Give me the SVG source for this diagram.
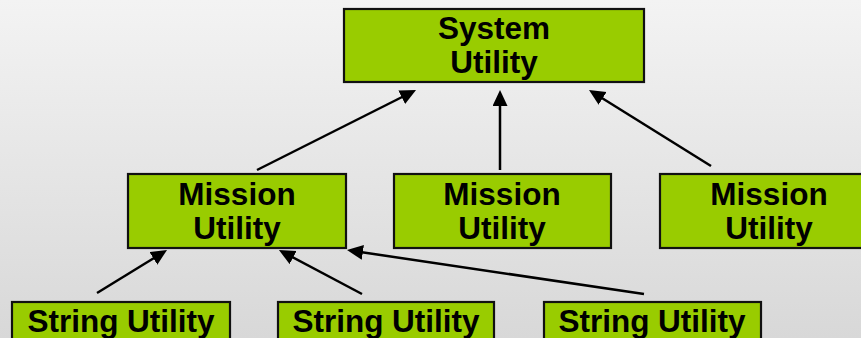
<svg xmlns="http://www.w3.org/2000/svg" width="861" height="338" viewBox="0 0 861 338">
<defs>
<linearGradient id="bg" x1="0" y1="0" x2="0" y2="1">
<stop offset="0" stop-color="#f3f3f3"/>
<stop offset="1" stop-color="#d8d8d8"/>
</linearGradient>
<marker id="ah" markerUnits="userSpaceOnUse" markerWidth="18" markerHeight="18" viewBox="0 0 18 18" refX="6" refY="7.5" orient="auto">
<path d="M0,0 L16,7.5 L0,15 z" fill="#000"/>
</marker>
<style>
.box{fill:#99cc00;stroke:#111;stroke-width:2.2}
.t{font-family:"Liberation Sans",Arial,sans-serif;font-weight:bold;font-size:31.5px;fill:#000;text-anchor:middle}
.c{stroke:#000;stroke-width:2.5;fill:none;marker-end:url(#ah)}
</style>
</defs>
<rect width="861" height="338" fill="url(#bg)"/>
<g id="system">
<rect class="box" x="344" y="9" width="300" height="73"/>
<text class="t" x="494" y="39">System</text>
<text class="t" x="494" y="73">Utility</text>
</g>
<g id="mission1">
<rect class="box" x="128" y="174" width="218" height="74"/>
<text class="t" x="237" y="205">Mission</text>
<text class="t" x="237" y="239">Utility</text>
</g>
<g id="mission2">
<rect class="box" x="394" y="174" width="217" height="74"/>
<text class="t" x="502" y="205">Mission</text>
<text class="t" x="502" y="239">Utility</text>
</g>
<g id="mission3">
<rect class="box" x="660" y="174" width="218" height="74"/>
<text class="t" x="769" y="205">Mission</text>
<text class="t" x="769" y="239">Utility</text>
</g>
<g id="string1">
<rect class="box" x="12" y="302" width="218" height="74"/>
<text class="t" x="121" y="332">String Utility</text>
</g>
<g id="string2">
<rect class="box" x="278" y="302" width="216" height="74"/>
<text class="t" x="386" y="332">String Utility</text>
</g>
<g id="string3">
<rect class="box" x="544" y="302" width="217" height="74"/>
<text class="t" x="652" y="332">String Utility</text>
</g>
<g id="connectors">
<line class="c" x1="257" y1="170" x2="407.1" y2="94.5"/>
<line class="c" x1="500" y1="170" x2="500" y2="100"/>
<line class="c" x1="711" y1="166" x2="597.5" y2="95.3"/>
<line class="c" x1="97" y1="293" x2="158.5" y2="255.2"/>
<line class="c" x1="362" y1="294" x2="287.8" y2="254.7"/>
<line class="c" x1="644" y1="294" x2="356.9" y2="251.5"/>
</g>
</svg>
